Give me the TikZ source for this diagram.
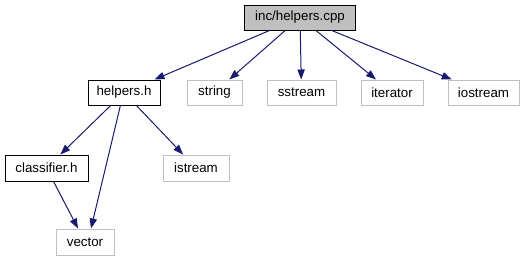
\documentclass[tikz,border=0pt]{standalone}
\usepackage{fontspec}
\setmainfont{Liberation Sans}
\usetikzlibrary{arrows.meta}
\definecolor{edgeblue}{HTML}{191970}
\definecolor{sysgray}{HTML}{BFBFBF}
\begin{document}
\begin{tikzpicture}[x=0.75pt,y=-0.75pt,
  file/.style={draw=black,line width=0.75pt,fill=white,font=\fontsize{10}{12}\selectfont,
    minimum height=18.75pt,inner sep=0pt},
  rootfile/.style={file,fill=sysgray},
  sysfile/.style={file,draw=sysgray},
  edge/.style={draw=edgeblue,line width=0.75pt,
    -{Triangle[length=7.5pt,width=5.5pt,fill=edgeblue]}}]
\useasboundingbox (0,0) rectangle (525,261);

% files
\node[rootfile,minimum width=83.25pt] (root) at (300,17.5) {inc/helpers.cpp};
\node[file,minimum width=54pt] (helpers) at (124,92.5) {helpers.h};
\node[sysfile,minimum width=41.25pt] (string) at (214.5,92.5) {string};
\node[sysfile,minimum width=51.75pt] (sstream) at (301.5,92.5) {sstream};
\node[sysfile,minimum width=46.5pt] (iterator) at (392,92.5) {iterator};
\node[sysfile,minimum width=53.25pt] (iostream) at (483.5,92.5) {iostream};
\node[file,minimum width=62.25pt,minimum height=19.5pt] (classifier) at (46.5,168) {classifier.h};
\node[sysfile,minimum width=49.5pt,minimum height=19.5pt] (istream) at (196,168) {istream};
\node[sysfile,minimum width=43.5pt,minimum height=19.5pt] (vector) at (85,242) {vector};

% include edges
\draw[edge] (root) -- (helpers);
\draw[edge] (root) -- (string);
\draw[edge] (root) -- (sstream);
\draw[edge] (root) -- (iterator);
\draw[edge] (root) -- (iostream);
\draw[edge] (helpers) -- (classifier);
\draw[edge] ([xshift=-2.7pt]helpers.south) -- ([xshift=4.5pt]vector.north);
\draw[edge] (helpers) -- (istream);
\draw[edge] (classifier) -- (vector);
\end{tikzpicture}
\end{document}
